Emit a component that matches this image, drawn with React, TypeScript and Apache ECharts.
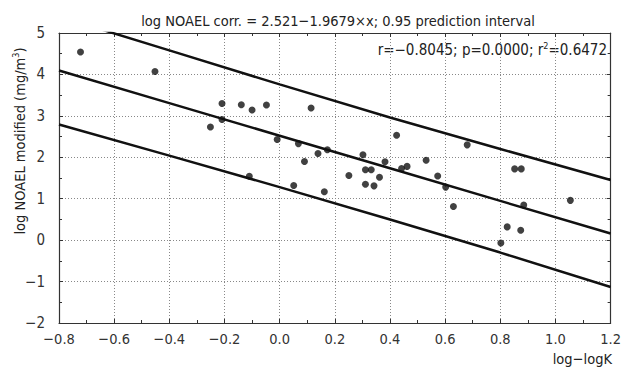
import React, { useEffect, useRef } from "react";
import * as echarts from "echarts";

const pointX = [
  -0.722, -0.452, -0.209, -0.139, -0.100, -0.048, 0.114, -0.251, -0.209, -0.009,
  0.068, 0.090, 0.139, -0.110, 0.051, 0.173, 0.162, 0.251, 0.302, 0.311,
  0.332, 0.311, 0.342, 0.362, 0.382, 0.424, 0.442, 0.462, 0.531, 0.573,
  0.602, 0.630, 0.680, 0.802, 0.825, 0.852, 0.876, 0.885, 0.874, 1.054,
];
const pointY = [
  4.54, 4.07, 3.30, 3.27, 3.14, 3.26, 3.19, 2.73, 2.91, 2.43,
  2.33, 1.90, 2.09, 1.54, 1.32, 2.18, 1.17, 1.56, 2.06, 1.70,
  1.70, 1.35, 1.31, 1.52, 1.89, 2.53, 1.73, 1.78, 1.93, 1.55,
  1.28, 0.81, 2.30, -0.07, 0.32, 1.72, 1.72, 0.85, 0.24, 0.96,
];
const lineX = [-0.8, -0.4, 0.0, 0.4, 0.8, 1.2];
const fitY = [4.095, 3.308, 2.521, 1.734, 0.947, 0.160];
const upperY = [5.40, 4.58, 3.76, 2.96, 2.20, 1.45];
const lowerY = [2.79, 2.04, 1.28, 0.50, -0.30, -1.13];

const titleText = "log NOAEL corr. = 2.521\u22121.9679\u00d7x; 0.95 prediction interval";
const yName = "log NOAEL modified (mg/m{sup|3})";
const xName = "log\u2212logK";
const statsText = "r=\u22120.8045; p=0.0000; r{sup|2}=0.6472";

const FONT = "'DejaVu Sans Condensed', 'Liberation Sans', sans-serif";

const fmt = (v: number, d: number) => {
  const s = Math.abs(v).toFixed(d);
  return v < 0 ? "\u2212" + s : s;
};

export default function App() {
  const ref = useRef<HTMLDivElement>(null);
  useEffect(() => {
    if (!ref.current) return;
    const chart = echarts.init(ref.current, null, { renderer: "svg" });
    const axisLine = { show: true, onZero: false, lineStyle: { color: "#333", width: 1.2 } };
    const tick = { show: true, inside: true, length: 4, lineStyle: { color: "#333" } };
    const minor = { show: true, splitNumber: 2, length: 3, lineStyle: { color: "#333" } };
    const split = { show: true, lineStyle: { color: "#888", type: [1, 2] as any, width: 1 } };
    const pairs = (ys: number[]) => lineX.map((x, i) => [x, ys[i]]);
    const lineSeries = (name: string, ys: number[]) => ({
      name,
      type: "line",
      data: pairs(ys),
      showSymbol: false,
      symbol: "none",
      clip: true,
      lineStyle: { color: "#111", width: 2.5 },
      xAxisIndex: 0,
      yAxisIndex: 0,
    });
    const sup = { fontSize: 9, verticalAlign: "top", padding: [0, 0, 8, 0], fontFamily: FONT, fill: "#222" };
    chart.setOption({
      animation: false,
      backgroundColor: "#fff",
      textStyle: { fontFamily: FONT },
      title: {
        text: titleText,
        left: 333,
        textAlign: "center",
        top: 8,
        textStyle: { fontFamily: FONT, fontSize: 14.5, fontWeight: "normal", color: "#222" },
      },
      grid: { left: 59, right: 12, top: 33, bottom: 47, containLabel: false },
      xAxis: [
        {
          type: "value",
          min: -0.8,
          max: 1.2,
          interval: 0.2,
          position: "bottom",
          axisLine,
          axisTick: tick,
          minorTick: minor,
          splitLine: split,
          axisLabel: {
            fontFamily: FONT,
            fontSize: 14.5,
            color: "#333",
            margin: 8,
            formatter: (v: number) => fmt(v, 1),
          },
        },
        {
          type: "value",
          min: -0.8,
          max: 1.2,
          interval: 0.2,
          position: "top",
          axisLine,
          axisTick: tick,
          minorTick: minor,
          splitLine: { show: false },
          axisLabel: { show: false },
        },
      ],
      yAxis: [
        {
          type: "value",
          min: -2,
          max: 5,
          interval: 1,
          position: "left",
          axisLine,
          axisTick: tick,
          minorTick: minor,
          splitLine: split,
          axisLabel: {
            fontFamily: FONT,
            fontSize: 15,
            color: "#333",
            margin: 14,
            formatter: (v: number) => fmt(v, 0),
          },
        },
        {
          type: "value",
          min: -2,
          max: 5,
          interval: 1,
          position: "right",
          axisLine,
          axisTick: tick,
          minorTick: minor,
          splitLine: { show: false },
          axisLabel: { show: false },
        },
      ],
      graphic: [
        {
          type: "text",
          right: 17,
          top: 41,
          style: {
            text: statsText,
            rich: { sup },
            font: `15px ${FONT}`,
            fill: "#222",
          },
        },
        {
          type: "text",
          x: 20,
          y: 141,
          rotation: Math.PI / 2,
          style: {
            text: yName,
            rich: { sup },
            font: `14.5px ${FONT}`,
            fill: "#222",
            align: "center",
            verticalAlign: "middle",
          },
        },
        {
          type: "text",
          right: 12,
          top: 351,
          style: { text: xName, font: `14.5px ${FONT}`, fill: "#222" },
        },
      ],
      series: [
        lineSeries("upper", upperY),
        lineSeries("fit", fitY),
        lineSeries("lower", lowerY),
        {
          name: "points",
          type: "scatter",
          data: pointX.map((x, i) => [x, pointY[i]]),
          symbol: "circle",
          symbolSize: 7,
          itemStyle: { color: "#111" },
          xAxisIndex: 0,
          yAxisIndex: 0,
          z: 5,
        },
      ],
    });
    return () => chart.dispose();
  }, []);
  return <div ref={ref} style={{ width: 624, height: 370, position: "absolute", left: 0, top: 0 }} />;
}
